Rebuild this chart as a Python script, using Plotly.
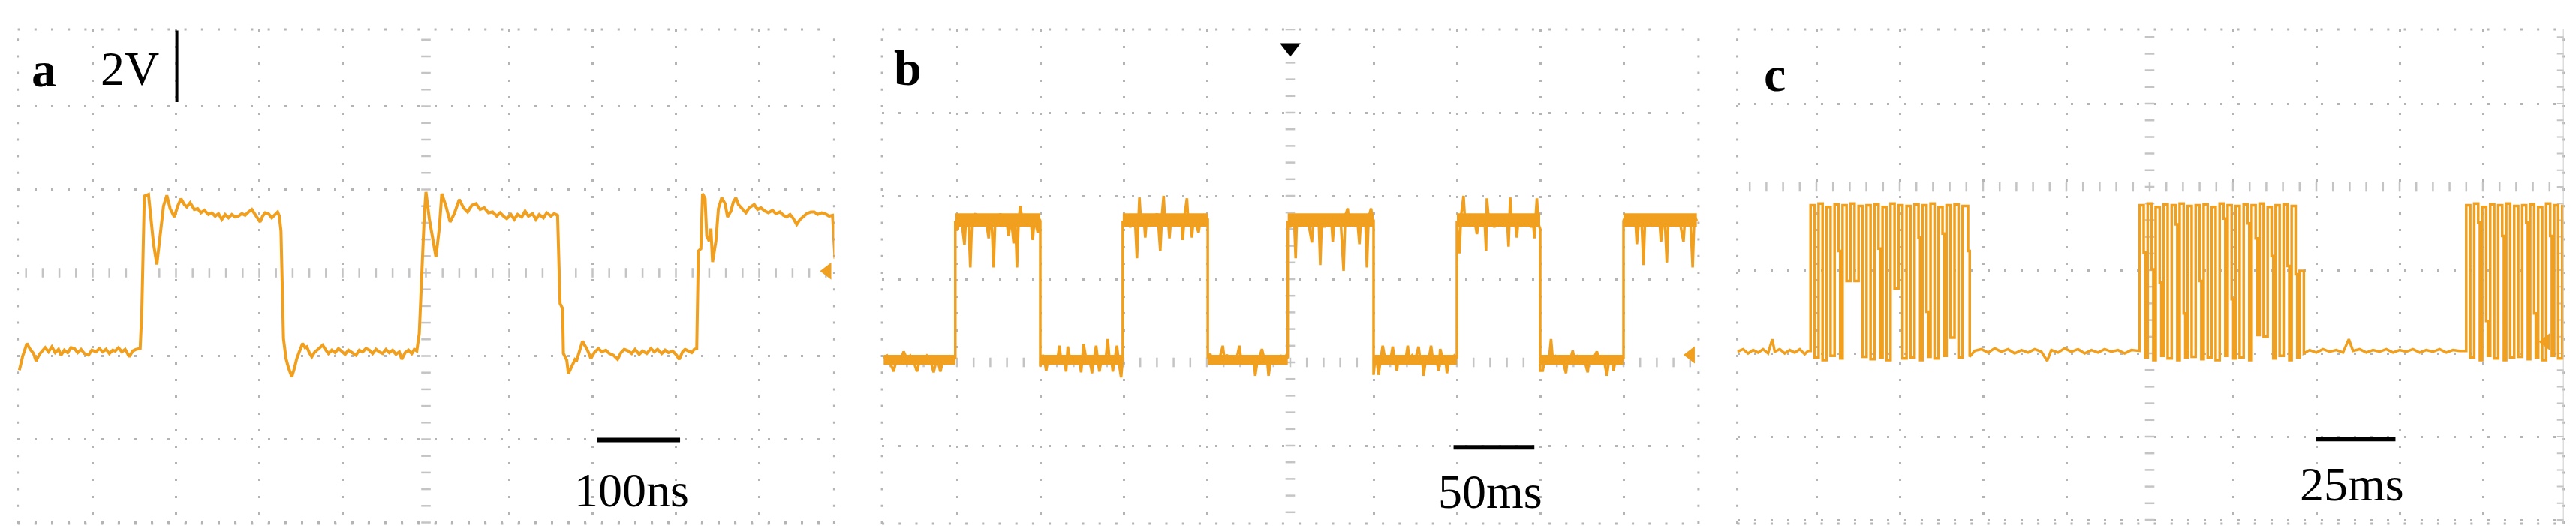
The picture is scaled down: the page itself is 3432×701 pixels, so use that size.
import plotly.graph_objects as go

# ---------------- DATA (oscilloscope screen divisions) ----------------
# Panel a : 2 V/div, 100 ns/div  (segments of the trace)
a_s1_t = [-4.88, -4.84, -4.79, -4.75, -4.71, -4.68, -4.64, -4.61, -4.57, -4.53, -4.49, -4.45,
          -4.41, -4.38, -4.34, -4.30, -4.26, -4.22, -4.18, -4.14, -4.10, -4.05, -4.01, -3.96,
          -3.92, -3.88, -3.84, -3.80, -3.76, -3.73, -3.69, -3.65, -3.61, -3.56, -3.52, -3.48, -3.43]
a_s1_v = [-1.17, -1.00, -0.85, -0.92, -0.97, -1.06, -0.98, -0.94, -0.90, -0.95, -0.89, -0.96,
          -0.92, -0.99, -0.93, -0.96, -0.90, -0.91, -0.96, -0.92, -0.97, -0.99, -0.93, -0.95,
          -0.91, -0.95, -0.92, -0.97, -0.93, -0.94, -0.90, -0.95, -0.92, -1.01, -0.94, -0.92, -0.91]
a_s2_t = [-3.41, -3.38, -3.33, -3.30, -3.27, -3.23, -3.20, -3.15, -3.11, -3.07,
          -3.02, -2.98, -2.94, -2.90, -2.87, -2.83, -2.78, -2.74, -2.70, -2.66,
          -2.61, -2.57, -2.53, -2.49, -2.45, -2.41, -2.37, -2.33, -2.29, -2.25,
          -2.21, -2.17, -2.13, -2.09, -2.05, -2.02, -1.99, -1.96, -1.93, -1.89,
          -1.85, -1.81, -1.78, -1.76, -1.74]
a_s2_v = [-0.46, 0.92, 0.94, 0.68, 0.35, 0.10, 0.35, 0.80, 0.93, 0.77,
          0.67, 0.80, 0.89, 0.82, 0.79, 0.84, 0.76, 0.77, 0.72, 0.75,
          0.70, 0.72, 0.68, 0.71, 0.64, 0.70, 0.66, 0.70, 0.67, 0.68,
          0.71, 0.69, 0.73, 0.76, 0.70, 0.66, 0.61, 0.68, 0.72, 0.71,
          0.66, 0.70, 0.73, 0.68, 0.50]
a_s3_t = [-1.71, -1.68, -1.65, -1.61, -1.58, -1.55, -1.52, -1.48, -1.45, -1.43,
          -1.40, -1.37, -1.34, -1.32, -1.28, -1.24, -1.20, -1.17, -1.13, -1.09,
          -1.05, -1.01, -0.97, -0.93, -0.88, -0.84, -0.80, -0.76, -0.72, -0.68,
          -0.64, -0.60, -0.56, -0.52, -0.48, -0.44, -0.40, -0.36, -0.32, -0.29,
          -0.25, -0.21, -0.17, -0.14, -0.11]
a_s3_v = [-0.79, -1.03, -1.14, -1.25, -1.15, -1.03, -0.95, -0.85, -0.90, -0.89,
          -0.96, -1.01, -0.96, -0.94, -0.90, -0.87, -0.93, -0.97, -0.93, -0.96,
          -0.91, -0.94, -0.98, -0.93, -0.96, -0.99, -0.93, -0.95, -0.91, -0.93,
          -0.97, -0.92, -0.95, -0.97, -0.92, -0.96, -0.93, -0.98, -0.95, -1.04,
          -0.96, -0.93, -0.97, -0.92, -0.94]
a_s4_t = [-0.08, -0.02, 0.00, 0.04, 0.08, 0.12, 0.16, 0.19, 0.24, 0.29,
          0.34, 0.37, 0.40, 0.45, 0.50, 0.55, 0.60, 0.65, 0.70, 0.75,
          0.80, 0.85, 0.89, 0.93, 0.97, 1.02, 1.06, 1.10, 1.15, 1.19,
          1.23, 1.28, 1.32, 1.36, 1.41, 1.45, 1.50, 1.54, 1.58]
a_s4_v = [-0.73, 0.68, 0.97, 0.65, 0.41, 0.19, 0.53, 0.95, 0.80, 0.61,
          0.71, 0.80, 0.88, 0.78, 0.73, 0.81, 0.83, 0.76, 0.78, 0.72,
          0.73, 0.68, 0.72, 0.68, 0.65, 0.70, 0.64, 0.70, 0.67, 0.74,
          0.68, 0.71, 0.64, 0.70, 0.66, 0.72, 0.68, 0.71, 0.69]
a_s5_t = [1.61, 1.64, 1.65, 1.69, 1.71, 1.74, 1.76, 1.79, 1.81, 1.85,
          1.88, 1.91, 1.93, 1.96, 1.98, 2.02, 2.07, 2.11, 2.16, 2.20,
          2.25, 2.30, 2.34, 2.38, 2.43, 2.47, 2.51, 2.56, 2.60, 2.65,
          2.70, 2.74, 2.78, 2.83, 2.87, 2.91, 2.96, 3.00, 3.04, 3.08,
          3.11, 3.15, 3.19, 3.22, 3.25]
a_s5_v = [-0.37, -0.43, -0.97, -1.05, -1.21, -1.15, -1.09, -1.04, -1.05, -0.93,
          -0.82, -0.88, -0.91, -0.98, -1.03, -0.96, -0.91, -0.95, -0.93, -0.97,
          -0.99, -1.04, -0.96, -0.92, -0.94, -0.97, -0.92, -0.98, -0.94, -0.97,
          -0.91, -0.95, -0.92, -0.97, -0.93, -0.96, -0.94, -0.98, -1.04, -0.95,
          -0.92, -0.94, -0.96, -0.92, -0.91]
a_s6_t = [3.27, 3.30, 3.32, 3.35, 3.37, 3.40, 3.42, 3.44, 3.48, 3.51,
          3.55, 3.59, 3.62, 3.66, 3.69, 3.72, 3.75, 3.78, 3.81, 3.84,
          3.88, 3.91, 3.94, 3.98, 4.02, 4.07, 4.11, 4.16, 4.20, 4.25,
          4.29, 4.33, 4.37, 4.41, 4.45, 4.49, 4.53, 4.57, 4.62, 4.66,
          4.70, 4.75, 4.79, 4.84, 4.88, 4.91]
a_s6_v = [0.26, 0.29, 0.95, 0.89, 0.44, 0.38, 0.53, 0.13, 0.38, 0.77,
          0.90, 0.83, 0.67, 0.74, 0.85, 0.90, 0.82, 0.79, 0.75, 0.72,
          0.78, 0.80, 0.82, 0.76, 0.78, 0.74, 0.72, 0.75, 0.71, 0.73,
          0.69, 0.67, 0.70, 0.65, 0.58, 0.64, 0.68, 0.71, 0.73, 0.73,
          0.70, 0.72, 0.71, 0.68, 0.69, 0.17]

# Panel b : 50 ms/div, segments of the square wave
b_low0_t = [-4.88, -4.84, -4.80, -4.76, -4.72, -4.68, -4.64, -4.60, -4.56, -4.52, -4.48, -4.44,
            -4.40, -4.36, -4.32, -4.28, -4.24, -4.20, -4.16, -4.12, -4.08, -4.04, -4.02]
b_low0_v = [0.05, 0.08, -0.01, -0.11, 0.06, 0.02, 0.13, 0.04, 0.08, 0.01, -0.11, 0.06,
            0.02, 0.08, 0.03, -0.12, 0.06, -0.11, 0.05, 0.02, 0.07, 0.04, 0.05]
b_high1_t = [-4.02, -3.99, -3.97, -3.94, -3.91, -3.89, -3.86, -3.84, -3.82, -3.78, -3.75, -3.72,
             -3.69, -3.66, -3.64, -3.62, -3.60, -3.58, -3.56, -3.54, -3.51, -3.48, -3.45, -3.42,
             -3.40, -3.38, -3.35, -3.32, -3.30, -3.28, -3.26, -3.24, -3.21, -3.18, -3.15, -3.12,
             -3.09, -3.07, -3.05, -3.03, -3.01, -3.00]
b_high1_v = [1.70, 1.59, 1.78, 1.66, 1.41, 1.76, 1.65, 1.14, 1.72, 1.79, 1.66, 1.78,
             1.64, 1.77, 1.62, 1.49, 1.76, 1.60, 1.14, 1.75, 1.65, 1.79, 1.63, 1.77,
             1.66, 1.52, 1.74, 1.43, 1.72, 1.14, 1.70, 1.88, 1.66, 1.78, 1.63, 1.77,
             1.47, 1.74, 1.64, 1.56, 1.72, 1.70]
b_low1_t = [-3.00, -2.97, -2.95, -2.93, -2.90, -2.87, -2.84, -2.81, -2.79, -2.77, -2.75, -2.72,
            -2.69, -2.67, -2.64, -2.61, -2.58, -2.55, -2.53, -2.51, -2.48, -2.45, -2.42, -2.40,
            -2.38, -2.35, -2.33, -2.31, -2.29, -2.26, -2.23, -2.21, -2.19, -2.17, -2.15, -2.13,
            -2.10, -2.08, -2.06, -2.03, -2.01]
b_low1_v = [-0.05, 0.09, 0.03, -0.10, 0.07, 0.01, 0.08, 0.02, 0.06, 0.20, 0.03, 0.08,
            -0.11, 0.19, 0.02, 0.07, 0.00, 0.08, 0.03, -0.12, 0.22, 0.04, 0.08, 0.01,
            -0.13, 0.06, 0.20, 0.03, -0.11, 0.07, 0.02, 0.08, 0.28, 0.03, 0.07, -0.11,
            0.06, 0.20, 0.02, -0.18, 0.05]
b_high2_t = [-2.01, -1.98, -1.95, -1.92, -1.89, -1.86, -1.84, -1.82, -1.81, -1.79, -1.76, -1.74,
             -1.72, -1.69, -1.66, -1.63, -1.60, -1.58, -1.56, -1.54, -1.52, -1.50, -1.47, -1.45,
             -1.43, -1.40, -1.37, -1.34, -1.31, -1.29, -1.27, -1.24, -1.22, -1.20, -1.18, -1.16,
             -1.13, -1.10, -1.07, -1.04, -1.01, -0.99]
b_high2_v = [1.70, 1.64, 1.78, 1.62, 1.76, 1.66, 1.25, 1.74, 1.98, 1.66, 1.77, 1.50,
             1.76, 1.63, 1.78, 1.65, 1.79, 1.62, 1.34, 1.76, 2.00, 1.65, 1.77, 1.49,
             1.75, 1.63, 1.78, 1.64, 1.77, 1.47, 1.75, 1.97, 1.64, 1.77, 1.50, 1.74,
             1.64, 1.56, 1.77, 1.65, 1.76, 1.72]
b_low2_t = [-0.99, -0.96, -0.93, -0.90, -0.87, -0.84, -0.81, -0.79, -0.76, -0.73, -0.70, -0.67,
            -0.64, -0.61, -0.59, -0.56, -0.53, -0.50, -0.47, -0.44, -0.42, -0.39, -0.36, -0.34,
            -0.31, -0.28, -0.26, -0.23, -0.20, -0.17, -0.14, -0.11, -0.08, -0.05, -0.03]
b_low2_v = [0.05, 0.10, 0.02, 0.07, 0.01, 0.08, 0.20, 0.04, 0.09, 0.02, 0.07, 0.00,
            0.06, 0.20, 0.03, 0.08, 0.01, 0.06, -0.02, 0.07, -0.16, 0.05, 0.09, 0.16,
            0.03, 0.07, -0.16, 0.06, 0.01, 0.08, 0.03, 0.07, 0.02, 0.08, 0.05]
b_high3_t = [-0.03, 0.00, 0.03, 0.05, 0.065, 0.08, 0.11, 0.14, 0.17, 0.20, 0.23, 0.26,
             0.28, 0.31, 0.34, 0.36, 0.38, 0.41, 0.44, 0.47, 0.49, 0.51, 0.53, 0.56,
             0.59, 0.61, 0.64, 0.66, 0.69, 0.71, 0.74, 0.77, 0.80, 0.83, 0.85, 0.88,
             0.90, 0.92, 0.94, 0.97, 0.99, 1.00]
b_high3_v = [1.70, 1.62, 1.78, 1.64, 1.25, 1.76, 1.63, 1.78, 1.65, 1.77, 1.62, 1.44,
             1.76, 1.64, 1.77, 1.17, 1.75, 1.62, 1.78, 1.63, 1.77, 1.45, 1.74, 1.64,
             1.78, 1.62, 1.10, 1.76, 1.85, 1.64, 1.77, 1.63, 1.78, 1.42, 1.75, 1.64,
             1.77, 1.14, 1.74, 1.85, 1.70, 1.70]
b_low3_t = [1.00, 1.02, 1.04, 1.06, 1.09, 1.11, 1.14, 1.17, 1.20, 1.23, 1.25, 1.28,
            1.30, 1.33, 1.36, 1.38, 1.41, 1.43, 1.46, 1.49, 1.51, 1.54, 1.56, 1.58,
            1.60, 1.63, 1.66, 1.69, 1.71, 1.74, 1.76, 1.78, 1.80, 1.83, 1.86, 1.88,
            1.91, 1.94, 1.97, 2.00]
b_low3_v = [-0.15, 0.06, 0.01, -0.15, 0.07, 0.20, 0.03, 0.08, 0.01, 0.19, 0.04, -0.10,
            0.07, 0.02, 0.08, 0.00, 0.20, 0.04, 0.08, 0.01, 0.07, 0.19, 0.03, 0.08,
            -0.16, 0.06, 0.02, 0.20, 0.04, 0.08, 0.01, -0.10, 0.16, 0.04, 0.08, -0.13,
            0.06, 0.02, 0.08, 0.05]
b_high4_t = [2.00, 2.03, 2.05, 2.08, 2.10, 2.13, 2.16, 2.19, 2.22, 2.24, 2.27, 2.30,
             2.33, 2.35, 2.36, 2.39, 2.42, 2.45, 2.48, 2.51, 2.54, 2.57, 2.60, 2.62,
             2.64, 2.66, 2.69, 2.72, 2.74, 2.77, 2.80, 2.83, 2.86, 2.89, 2.91, 2.93,
             2.96, 2.98, 3.00]
b_high4_v = [1.70, 1.31, 1.76, 2.00, 1.65, 1.78, 1.63, 1.77, 1.66, 1.54, 1.76, 1.63,
             1.78, 1.34, 1.97, 1.64, 1.77, 1.62, 1.78, 1.65, 1.76, 1.63, 1.78, 1.39,
             1.98, 1.65, 1.77, 1.50, 1.75, 1.63, 1.78, 1.64, 1.77, 1.62, 1.76, 1.49,
             1.97, 1.66, 1.60]
b_low4_t = [3.00, 3.03, 3.06, 3.09, 3.11, 3.13, 3.15, 3.18, 3.21, 3.24, 3.27, 3.31,
            3.33, 3.36, 3.39, 3.41, 3.44, 3.47, 3.50, 3.53, 3.57, 3.59, 3.62, 3.65,
            3.68, 3.71, 3.74, 3.77, 3.80, 3.83, 3.86, 3.88, 3.91, 3.94, 3.97, 4.00]
b_low4_v = [-0.10, -0.10, 0.06, 0.02, 0.08, 0.28, 0.04, 0.07, 0.01, 0.06, 0.02, -0.13,
            0.06, 0.03, 0.14, 0.04, 0.07, 0.01, 0.06, 0.03, -0.12, 0.06, 0.02, 0.07,
            0.13, 0.03, 0.07, 0.01, -0.16, 0.05, 0.08, -0.10, 0.06, 0.02, 0.07, 0.04]
b_high5_t = [4.00, 4.03, 4.06, 4.09, 4.12, 4.14, 4.16, 4.19, 4.22, 4.24, 4.26, 4.29,
             4.32, 4.35, 4.38, 4.41, 4.43, 4.45, 4.48, 4.50, 4.52, 4.54, 4.57, 4.60,
             4.63, 4.66, 4.69, 4.72, 4.74, 4.77, 4.80, 4.83, 4.85, 4.88]
b_high5_v = [1.70, 1.77, 1.64, 1.78, 1.65, 1.77, 1.42, 1.75, 1.62, 1.17, 1.76, 1.64,
             1.78, 1.63, 1.77, 1.65, 1.72, 1.45, 1.76, 1.62, 1.20, 1.75, 1.64, 1.78,
             1.63, 1.77, 1.62, 1.45, 1.76, 1.64, 1.78, 1.14, 1.76, 1.70]
# dense noise envelope of the high and low levels (min, max)
b_high_band = (1.63, 1.79)
b_low_band = (-0.03, 0.09)

# Panel c : 25 ms/div, pulse bursts separated by quiet periods
c_quiet0_t = [-4.95, -4.88, -4.82, -4.76, -4.70, -4.64, -4.58, -4.53, -4.50, -4.44, -4.38, -4.32,
              -4.26, -4.20, -4.14, -4.10]
c_quiet0_v = [-1.98, -1.95, -2.00, -1.96, -1.99, -1.95, -2.00, -1.83, -1.98, -1.95, -2.00, -1.96,
              -1.99, -1.95, -2.01, -1.97]
c_b1_rise = [-4.070, -3.974, -3.878, -3.782, -3.686, -3.590, -3.494, -3.398, -3.302, -3.206,
             -3.110, -3.014, -2.918, -2.822, -2.726, -2.630, -2.534, -2.438, -2.342, -2.246]
c_b1_fall = [-4.022, -3.926, -3.830, -3.734, -3.638, -3.542, -3.446, -3.350, -3.254, -3.158,
             -3.062, -2.966, -2.870, -2.774, -2.678, -2.582, -2.486, -2.390, -2.294, -2.180]
c_b1_top = [-0.22, -0.20, -0.24, -0.21, -0.22, -0.20, -0.23, -0.22, -0.21, -0.24,
            -0.20, -0.22, -0.23, -0.21, -0.22, -0.20, -0.24, -0.22, -0.21, -0.23]
c_b1_mid = [None, None, None, -0.77, None, None, None, None, -0.74, None,
            None, None, None, -0.61, -1.50, None, -0.56, None, None, -0.77]
c_b1_low = [-2.05, -2.08, -2.03, -2.06, -1.13, -1.13, -2.04, -2.07, -2.05, -2.08,
            -1.22, -2.06, -2.05, -2.08, -2.04, -2.06, -2.03, -1.81, -2.05, -2.04]
c_quiet1_t = [-2.10, -2.02, -1.94, -1.86, -1.78, -1.70, -1.62, -1.54, -1.46, -1.38, -1.30, -1.23,
              -1.18, -1.10, -1.02, -0.94, -0.86, -0.78, -0.70, -0.62, -0.54, -0.46, -0.38, -0.30,
              -0.22, -0.15]
c_quiet1_v = [-1.97, -1.95, -1.99, -1.94, -1.98, -1.95, -2.00, -1.96, -1.99, -1.95, -1.98, -2.09,
              -1.96, -1.99, -1.94, -1.98, -1.95, -2.00, -1.96, -1.99, -1.95, -1.98, -1.96, -2.00,
              -1.96, -1.97]
c_b2_rise = [-0.120, -0.024, 0.072, 0.168, 0.264, 0.360, 0.456, 0.552, 0.648, 0.744,
             0.840, 0.936, 1.032, 1.128, 1.224, 1.320, 1.416, 1.512, 1.608, 1.704, 1.800]
c_b2_fall = [-0.072, 0.024, 0.120, 0.216, 0.312, 0.408, 0.504, 0.600, 0.696, 0.792,
             0.888, 0.984, 1.080, 1.176, 1.272, 1.368, 1.464, 1.560, 1.656, 1.752, 1.850]
c_b2_top = [-0.22, -0.20, -0.24, -0.21, -0.22, -0.20, -0.23, -0.22, -0.21, -0.24,
            -0.20, -0.22, -0.23, -0.21, -0.22, -0.20, -0.24, -0.22, -0.21, -0.23, -1.01]
c_b2_mid = [-0.79, -0.99, -1.15, None, -0.45, -1.52, None, -1.13, None, None,
            -0.38, -1.35, None, -0.44, -0.62, None, -0.83, None, -0.95, -1.05, None]
c_b2_low = [-2.05, -2.08, -2.03, -2.06, -2.08, -2.05, -2.04, -2.07, -2.05, -2.08,
            -2.03, -2.06, -2.05, -2.08, -1.78, -1.80, -2.06, -2.03, -2.08, -2.05, -2.00]
c_quiet2_t = [1.92, 2.00, 2.08, 2.16, 2.24, 2.32, 2.39, 2.44, 2.52, 2.60, 2.68, 2.76,
              2.84, 2.92, 3.00, 3.08, 3.16, 3.24, 3.32, 3.40, 3.48, 3.56, 3.64, 3.72]
c_quiet2_v = [-1.96, -1.99, -1.95, -1.98, -1.96, -1.99, -1.83, -1.97, -1.95, -1.99, -1.96, -1.98,
              -1.95, -1.99, -1.96, -1.98, -1.95, -1.99, -1.96, -1.98, -1.95, -1.99, -1.96, -1.97]
c_b3_rise = [3.800, 3.896, 3.992, 4.088, 4.184, 4.280, 4.376, 4.472, 4.568, 4.664, 4.760, 4.856, 4.952]
c_b3_fall = [3.848, 3.944, 4.040, 4.136, 4.232, 4.328, 4.424, 4.520, 4.616, 4.712, 4.808, 4.904, 5.000]
c_b3_top = [-0.22, -0.20, -0.24, -0.21, -0.22, -0.20, -0.23, -0.22, -0.21, -0.24, -0.20, -0.22, -0.23]
c_b3_mid = [None, -0.43, -1.61, None, -0.59, None, None, -0.43, -1.52, None, -0.59, None, None]
c_b3_low = [-2.05, -2.08, -2.03, -2.06, -2.08, -2.05, -2.04, -2.07, -2.05, -2.08, -2.03, -2.06, -2.05]

# annotations / scale bars
panel_letters = ["a", "b", "c"]
letter_pos_t = [-4.59, -4.59, -4.50]
letter_pos_v = [2.44, 3.54, 1.36]
bar_labels = ["100ns", "50ms", "25ms"]
bar_t0 = [2.05, 1.96, 2.00]
bar_t1 = [3.05, 2.93, 2.95]
bar_v = [-2.01, -1.02, -3.03]
bar_label_t = [2.47, 2.40, 2.43]
bar_label_v = [-2.61, -1.55, -3.57]
volt_label = "2V"
volt_label_pos = (-3.55, 2.45)
volt_bar_t = -2.99
volt_bar_v = (2.05, 2.91)
ground_t = [4.82, 4.81, 4.76]
ground_v = [0.02, 0.09, -1.86]
trigger_t = [0.0]
trigger_v = [3.78]

# ---------------- BUILD ----------------
def cat(*pairs):
    t, v = [], []
    for tt, vv in pairs:
        n = min(len(tt), len(vv))
        t += list(tt[:n]); v += list(vv[:n])
    return t, v

def burst(rise, fall, top, mid, low, start, dwell=0.02):
    t, v = [], []
    prev = start
    for r, f, tp, md, lw in zip(rise, fall, top, mid, low):
        t += [r, r, f]
        v += [prev, tp, tp]
        if md is not None:
            t += [f, f + dwell, f + dwell]
            v += [md, md, lw]
        else:
            t += [f]
            v += [lw]
        prev = lw
    return t, v

a_t, a_v = cat((a_s1_t, a_s1_v), (a_s2_t, a_s2_v), (a_s3_t, a_s3_v),
               (a_s4_t, a_s4_v), (a_s5_t, a_s5_v), (a_s6_t, a_s6_v))

b_high_segs = [b_high1_t, b_high2_t, b_high3_t, b_high4_t, b_high5_t]
b_low_segs = [b_low0_t, b_low1_t, b_low2_t, b_low3_t, b_low4_t]
b_t, b_v = cat((b_low0_t, b_low0_v), (b_high1_t, b_high1_v), (b_low1_t, b_low1_v),
               (b_high2_t, b_high2_v), (b_low2_t, b_low2_v), (b_high3_t, b_high3_v),
               (b_low3_t, b_low3_v), (b_high4_t, b_high4_v), (b_low4_t, b_low4_v),
               (b_high5_t, b_high5_v))

c_t, c_v = cat((c_quiet0_t, c_quiet0_v),
               burst(c_b1_rise, c_b1_fall, c_b1_top, c_b1_mid, c_b1_low, c_quiet0_v[-1]),
               (c_quiet1_t, c_quiet1_v),
               burst(c_b2_rise, c_b2_fall, c_b2_top, c_b2_mid, c_b2_low, c_quiet1_v[-1]),
               (c_quiet2_t, c_quiet2_v),
               burst(c_b3_rise, c_b3_fall, c_b3_top, c_b3_mid, c_b3_low, c_quiet2_v[-1]))

traces_t = [a_t, b_t, c_t]
traces_v = [a_v, b_v, c_v]
line_w = [4.0, 3.5, 3.5]

# ---------------- LAYOUT ----------------
W, H = 3432, 701
PXDIV = 111.0
cx_px = [559.5, 1711.0, 2856.0]
cy_px = [355.5, 475.0, 241.0]
xlims = [(-4.9, 4.9), (-4.9, 4.9), (-4.95, 4.97)]
top_px, bot_px = 31.0, 690.0
ORANGE = "#F0A01E"
GRID = "#b4b4b4"
TICKC = "#c4c4c4"
FONT = "Liberation Serif"

fig = go.Figure()
layout = dict(width=W, height=H, margin=dict(l=0, r=0, t=0, b=0),
              paper_bgcolor="white", plot_bgcolor="white", showlegend=False,
              autosize=False)
shapes, annots = [], []
ydom = [(H - bot_px) / H, (H - top_px) / H]

for i in range(3):
    sfx = "" if i == 0 else str(i + 1)
    xa, ya = "x" + sfx, "y" + sfx
    lo, hi = xlims[i]
    xdom = [(cx_px[i] + lo * PXDIV) / W, (cx_px[i] + hi * PXDIV) / W]
    ylo = (cy_px[i] - bot_px) / PXDIV
    yhi = (cy_px[i] - top_px) / PXDIV
    xt = [k for k in range(-4, 5) if k != 0]
    yt = [k for k in range(-5, 6) if k != 0 and ylo <= k <= yhi]
    common = dict(showticklabels=False, ticks="", zeroline=False, showline=False,
                  showgrid=True, gridcolor=GRID, gridwidth=3, griddash="3px,19.2px",
                  fixedrange=True)
    layout["xaxis" + sfx] = dict(domain=xdom, range=[lo, hi], tickvals=xt, anchor=ya, **common)
    layout["yaxis" + sfx] = dict(domain=ydom, range=[ylo, yhi], tickvals=yt, anchor=xa, **common)

    # dotted frame
    for (x0, y0, x1, y1) in [(0, 0, 1, 0), (0, 1, 1, 1), (0, 0, 0, 1), (1, 0, 1, 1)]:
        shapes.append(dict(type="line", xref=xa + " domain", yref=ya + " domain",
                           x0=x0, y0=y0, x1=x1, y1=y1,
                           line=dict(color=GRID, width=3, dash="3px,19.2px"), layer="below"))

    # centre axes with minor ticks
    hx = [k * 0.2 for k in range(-25, 26) if lo <= k * 0.2 <= hi]
    fig.add_trace(go.Scatter(x=hx, y=[0] * len(hx), mode="markers", xaxis=xa, yaxis=ya,
                             marker=dict(symbol="line-ns", size=9, line=dict(color=TICKC, width=2.5)),
                             hoverinfo="skip"))
    vy = [k * 0.2 for k in range(-25, 26) if ylo <= k * 0.2 <= yhi]
    fig.add_trace(go.Scatter(x=[0] * len(vy), y=vy, mode="markers", xaxis=xa, yaxis=ya,
                             marker=dict(symbol="line-ew", size=9, line=dict(color=TICKC, width=2.5)),
                             hoverinfo="skip"))
    if i == 2:
        shapes.append(dict(type="line", xref=xa, yref=ya + " domain", x0=hi, x1=hi, y0=0, y1=1,
                           line=dict(color="#cccccc", width=2)))
        fig.add_trace(go.Scatter(x=[hi - 0.03] * len(vy), y=vy, mode="markers", xaxis=xa, yaxis=ya,
                                 marker=dict(symbol="line-ew", size=8, line=dict(color=TICKC, width=2)),
                                 hoverinfo="skip"))

    # noise envelope bands (panel b)
    if i == 1:
        for segs, band in ((b_high_segs, b_high_band), (b_low_segs, b_low_band)):
            for seg in segs:
                fig.add_trace(go.Scatter(x=[seg[0], seg[-1], seg[-1], seg[0], seg[0]],
                                         y=[band[0], band[0], band[1], band[1], band[0]],
                                         mode="lines", fill="toself", fillcolor=ORANGE,
                                         line=dict(width=0, color=ORANGE), xaxis=xa, yaxis=ya,
                                         hoverinfo="skip"))

    # signal
    fig.add_trace(go.Scatter(x=traces_t[i], y=traces_v[i], mode="lines", xaxis=xa, yaxis=ya,
                             line=dict(color=ORANGE, width=line_w[i]), hoverinfo="skip"))
    # ground marker
    fig.add_trace(go.Scatter(x=[ground_t[i]], y=[ground_v[i]], mode="markers", xaxis=xa, yaxis=ya,
                             marker=dict(symbol="triangle-left", size=20, color=ORANGE),
                             hoverinfo="skip"))

    # scale bar + label
    shapes.append(dict(type="line", xref=xa, yref=ya, x0=bar_t0[i], x1=bar_t1[i],
                       y0=bar_v[i], y1=bar_v[i], line=dict(color="black", width=6)))
    annots.append(dict(xref=xa, yref=ya, x=bar_label_t[i], y=bar_label_v[i], text=bar_labels[i],
                       showarrow=False, xanchor="center", yanchor="middle",
                       font=dict(family=FONT, size=64, color="black")))
    annots.append(dict(xref=xa, yref=ya, x=letter_pos_t[i], y=letter_pos_v[i],
                       text="<b>%s</b>" % panel_letters[i], showarrow=False,
                       xanchor="center", yanchor="middle",
                       font=dict(family=FONT, size=66, color="black")))

# trigger marker in panel b
fig.add_trace(go.Scatter(x=trigger_t, y=trigger_v, mode="markers", xaxis="x2", yaxis="y2",
                         marker=dict(symbol="triangle-down", size=24, color="black"),
                         hoverinfo="skip"))
# volts label and bar in panel a
annots.append(dict(xref="x", yref="y", x=volt_label_pos[0], y=volt_label_pos[1], text=volt_label,
                   showarrow=False, xanchor="center", yanchor="middle",
                   font=dict(family=FONT, size=64, color="black")))
shapes.append(dict(type="line", xref="x", yref="y", x0=volt_bar_t, x1=volt_bar_t,
                   y0=volt_bar_v[0], y1=volt_bar_v[1], line=dict(color="black", width=4)))

layout["shapes"] = shapes
layout["annotations"] = annots
fig.update_layout(**layout)
fig.write_html("out.html", config={"displayModeBar": False})
